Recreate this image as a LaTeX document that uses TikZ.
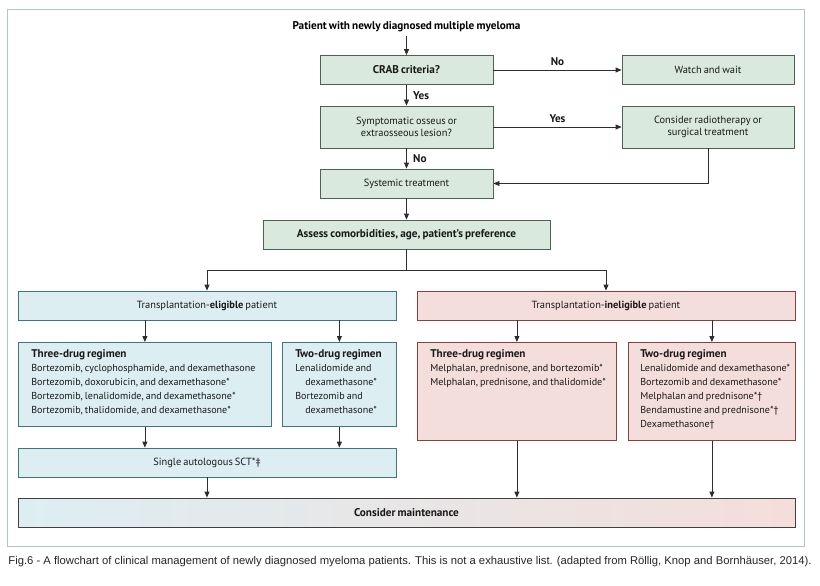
\documentclass[tikz,border=0pt]{standalone}
\usepackage{fontspec}
\setmainfont{PT Sans}[WordSpace=0.75]
\newfontfamily\capfont{Liberation Sans}
\usetikzlibrary{arrows.meta}

\definecolor{greenfill}{RGB}{217,233,221}
\definecolor{greenline}{RGB}{72,100,82}
\definecolor{bluefill}{RGB}{221,238,242}
\definecolor{blueline}{RGB}{62,118,128}
\definecolor{pinkfill}{RGB}{244,222,219}
\definecolor{pinkline}{RGB}{138,62,62}
\definecolor{framecol}{RGB}{178,196,196}
\definecolor{arrowcol}{RGB}{45,45,45}

\newcommand{\boldsize}{\bfseries\fontsize{11.2}{13}\selectfont}

\begin{document}
\begin{tikzpicture}[x=1pt,y=-1pt,semithick,>={Triangle[length=6pt,width=5pt]},
 box/.style={draw,line width=0.8pt,inner sep=2pt,align=center,text=black!90,font=\fontsize{10.4}{12.5}\selectfont},
 greenbox/.style={box,draw=greenline,fill=greenfill},
 bluebox/.style={box,draw=blueline,fill=bluefill},
 pinkbox/.style={box,draw=pinkline,fill=pinkfill},
 regimen/.style={anchor=north west,inner sep=0pt,align=left,text=black!90,font=\fontsize{10.1}{14}\selectfont},
 link/.style={->,draw=arrowcol,line width=0.8pt},
 answer/.style={font=\boldsize,text=black!90}]

\useasboundingbox (0,0) rectangle (820,586);
\draw [framecol,line width=0.8pt] (7,9) rectangle (804,546);

\node[font=\boldsize] (start) at (406.5,27) {Patient with newly diagnosed multiple myeloma};

\node[greenbox,minimum width=173pt,minimum height=29pt,font=\boldsize] (crab) at (406.5,70) {CRAB criteria?};
\node[greenbox,minimum width=172pt,minimum height=29pt] (watch) at (708,70) {Watch and wait};
\node[greenbox,minimum width=173pt,minimum height=42pt] (lesion) at (406.5,127) {Symptomatic osseus or\\extraosseous lesion?};
\node[greenbox,minimum width=172pt,minimum height=42pt] (radio) at (708,127) {Consider radiotherapy or\\surgical treatment};
\node[greenbox,minimum width=173pt,minimum height=29pt] (system) at (406.5,183.5) {Systemic treatment};
\node[greenbox,minimum width=287pt,minimum height=29pt,font=\boldsize] (assess) at (406.5,234.5) {Assess comorbidities, age, patient’s preference};

%eligible side
\node[bluebox,minimum width=378pt,minimum height=29pt] (elig) at (207,305.5) {Transplantation-\textbf{eligible} patient};
\node[bluebox,anchor=north west,minimum width=253pt,minimum height=84pt] (ethree) at (18,342) {};
\node[bluebox,anchor=north west,minimum width=114pt,minimum height=84pt] (etwo) at (282,342) {};
\node[bluebox,minimum width=378pt,minimum height=29pt] (sct) at (207,462.5) {Single autologous SCT*‡};

\node[regimen] (ethreetxt) at ([xshift=13pt,yshift=-7pt]ethree.north west) {{\boldsize Three-drug regimen}\\
Bortezomib, cyclophosphamide, and dexamethasone\\
Bortezomib, doxorubicin, and dexamethasone*\\
Bortezomib, lenalidomide, and dexamethasone*\\
Bortezomib, thalidomide, and dexamethasone*};
\node[regimen] (etwotxt) at ([xshift=13pt,yshift=-7pt]etwo.north west) {{\boldsize Two-drug regimen}\\
Lenalidomide and\\
\hspace*{10pt}dexamethasone*\\
Bortezomib and\\
\hspace*{10pt}dexamethasone*};

%ineligible side
\node[pinkbox,minimum width=378pt,minimum height=29pt] (inelig) at (606,305.5) {Transplantation-\textbf{ineligible} patient};
\node[pinkbox,anchor=north west,minimum width=199pt,minimum height=98pt] (ithree) at (417,342) {};
\node[pinkbox,anchor=north west,minimum width=167pt,minimum height=98pt] (itwo) at (628,342) {};

\node[regimen] (ithreetxt) at ([xshift=13pt,yshift=-7pt]ithree.north west) {{\boldsize Three-drug regimen}\\
Melphalan, prednisone, and bortezomib*\\
Melphalan, prednisone, and thalidomide*};
\node[regimen] (itwotxt) at ([xshift=12pt,yshift=-7pt]itwo.north west) {{\boldsize Two-drug regimen}\\
Lenalidomide and dexamethasone*\\
Bortezomib and dexamethasone*\\
Melphalan and prednisone*†\\
Bendamustine and prednisone*†\\
Dexamethasone†};

\node[box,draw=black!75,left color=bluefill,middle color=black!7,right color=pinkfill,minimum width=777pt,minimum height=29pt,font=\boldsize] (maint) at (406.5,512.5) {Consider maintenance};

\node[font=\capfont\fontsize{11.25}{13}\selectfont,text=black!85] (caption) at (410,562) {Fig.6 - A flowchart of clinical management of newly diagnosed myeloma patients. This is not a exhaustive list. (adapted from Röllig, Knop and Bornhäuser, 2014).};

\coordinate (split) at (406.5,270);

\draw [link] (start) -- (crab);
\draw [link] (crab) -- node[answer,above=1pt] {No} (watch);
\draw [link] (crab) -- node[answer,right=3pt] {Yes} (lesion);
\draw [link] (lesion) -- node[answer,above=1pt] {Yes} (radio);
\draw [link] (lesion) -- node[answer,right=3pt] {No} (system);
\draw [link] (radio.south) |- (system.east);
\draw [link] (system) -- (assess);
\draw [link,-] (assess) -- (split);
\draw [link] (split) -| (elig.north);
\draw [link] (split) -| (inelig.north);
\draw [link] (ethree.north |- elig.south) -- (ethree.north);
\draw [link] (etwo.north |- elig.south) -- (etwo.north);
\draw [link] (ithree.north |- inelig.south) -- (ithree.north);
\draw [link] (itwo.north |- inelig.south) -- (itwo.north);
\draw [link] (ethree.south) -- (ethree.south |- sct.north);
\draw [link] (etwo.south) -- (etwo.south |- sct.north);
\draw [link] (sct.south) -- (sct.south |- maint.north);
\draw [link] (ithree.south) -- (ithree.south |- maint.north);
\draw [link] (itwo.south) -- (itwo.south |- maint.north);
\end{tikzpicture}
\end{document}
